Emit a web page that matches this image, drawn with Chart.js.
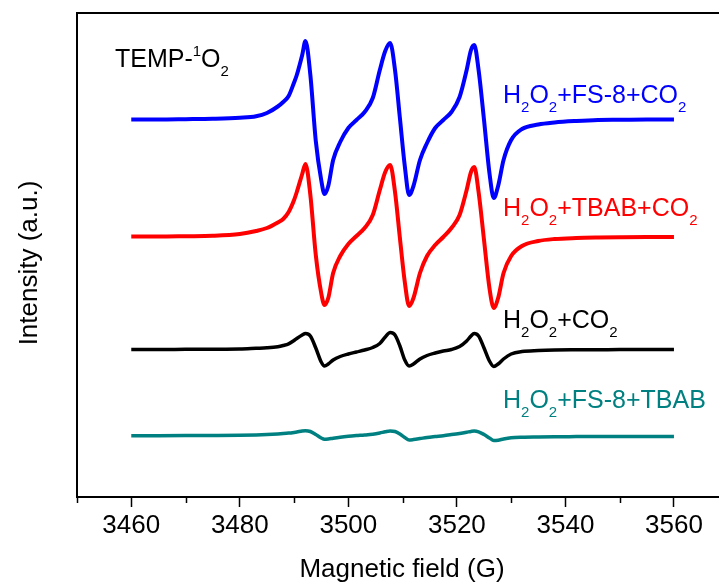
<!DOCTYPE html>
<html>
<head>
<meta charset="utf-8">
<script src="https://cdn.jsdelivr.net/npm/chart.js@4.4.1/dist/chart.umd.min.js"></script>
<style>
  html, body { margin: 0; padding: 0; background: #fff; }
  canvas { display: block; }
</style>
</head>
<body>
<canvas id="chart" width="719" height="586"></canvas>
<script>
// magnetic field (G), shared by all four spectra
const field = [3460, 3465, 3470, 3475, 3480, 3483, 3485, 3487, 3488, 3489, 3490, 3490.5, 3491.5, 3492.1,
  3493, 3494, 3495, 3495.6, 3496.3, 3497.2, 3498.5, 3500, 3501.5, 3503, 3504.5, 3505.8,
  3506.8, 3507.7, 3508.6, 3509.5, 3510.4, 3511.2, 3512, 3513.2, 3514.5, 3516, 3517.5, 3519,
  3520.5, 3521.8, 3522.6, 3523.2, 3524, 3525, 3526, 3526.8, 3527.6, 3528.6, 3530, 3532,
  3535, 3538, 3542, 3546, 3550, 3555, 3560];

// stacked intensities (a.u.), each spectrum sits on its own offset
const fs8Co2 = [377.5, 377.5, 377.8, 378.2, 379.2, 380.7, 384, 390.5, 395, 401, 414.5, 422, 442, 456,
  422, 356, 317, 303, 311, 337, 355, 369, 377, 385, 399, 427,
  446, 454, 427, 379, 331, 302, 311, 337, 354, 369, 377, 385,
  400, 427, 447, 452, 427, 377, 324, 299, 311, 337, 357, 368,
  372.5, 374.5, 376, 377, 377.2, 377.5, 377.5];

const tbabCo2 = [260.5, 260.5, 260.8, 261.2, 263, 266, 269, 274.5, 278, 285, 297, 305, 323, 333,
  302, 242, 204, 192, 199, 224, 241, 253, 261, 269, 282, 307,
  325, 332, 305, 259, 215, 191, 199, 224, 241, 252, 260, 269,
  282, 307, 325, 330, 305, 257, 209, 189, 199, 224, 241, 251,
  256, 258, 259, 259.5, 259.8, 260, 260];

const h2o2Co2 = [147.5, 147.5, 147.7, 147.8, 148, 148.7, 149.2, 150.3, 151.5, 153.2, 156.5, 158.5, 162, 163.5,
  161, 149, 135, 131, 133, 137, 140.5, 143, 145, 147, 149.5, 153.5,
  160, 164.5, 162, 151, 137, 131, 133, 138, 141.5, 144, 146, 147.5,
  150.5, 156, 161, 163.5, 161, 149, 136, 130.5, 133, 138, 143, 145.5,
  146.5, 147, 147.2, 147.3, 147.4, 147.5, 147.5];

const fs8Tbab = [61.2, 61.3, 61.4, 61.5, 61.7, 62, 62.4, 63, 63.4, 63.9, 64.6, 65, 66, 66.3,
  65.5, 62.5, 59, 57.7, 58, 58.8, 59.8, 60.7, 61.4, 62, 62.8, 64,
  65.2, 66, 65.5, 63, 59.5, 57, 57.4, 58.4, 59.6, 60.5, 61.3, 62.4,
  63.6, 64.8, 65.6, 66, 65.2, 62.5, 59, 56.5, 56.8, 58, 59.2, 59.8,
  60.1, 60.3, 60.4, 60.5, 60.5, 60.5, 60.5];

const xTicks = [3460, 3480, 3500, 3520, 3540, 3560];
const xMinor = [3450, 3470, 3490, 3510, 3530, 3550, 3570];

// "_" = subscript, "^" = superscript for the next character
const names = ["H_2O_2+FS-8+CO_2", "H_2O_2+TBAB+CO_2", "H_2O_2+CO_2", "H_2O_2+FS-8+TBAB"];
const probe = "TEMP-^1O_2";

const colors = ["#0000ff", "#ff0000", "#000000", "#008080"];
const widths = [4, 4, 3.5, 3.5];
// where each name is written, in axis units
const nameAt = [[3528.5, 394.3], [3528.5, 281], [3528.5, 169], [3528.5, 89]];
const probeAt = [3457, 430.3];

const FONT = '"Liberation Sans", Arial, sans-serif';

function richText(ctx, str, x, y, size) {
  let i = 0;
  while (i < str.length) {
    let ch = str[i], dy = 0, fs = size;
    if ((ch === "_" || ch === "^") && i + 1 < str.length) {
      dy = ch === "_" ? size * 0.36 : -size * 0.43;
      fs = size * 0.6;
      ch = str[++i];
    }
    ctx.font = fs + "px " + FONT;
    ctx.fillText(ch, x, y + dy);
    x += ctx.measureText(ch).width;
    i++;
  }
}

const decor = {
  id: "decor",
  afterDraw(chart) {
    const ctx = chart.ctx, a = chart.chartArea;
    const sx = chart.scales.x, sy = chart.scales.y;
    ctx.save();
    ctx.strokeStyle = "#000";
    ctx.lineWidth = 2;
    // top frame line
    ctx.beginPath();
    ctx.moveTo(a.left, a.top);
    ctx.lineTo(chart.width, a.top);
    ctx.stroke();
    // minor ticks
    ctx.lineWidth = 1.5;
    xMinor.forEach(v => {
      const px = Math.round(sx.getPixelForValue(v)) + 0.5;
      if (px > chart.width) return;
      ctx.beginPath();
      ctx.moveTo(px, a.bottom);
      ctx.lineTo(px, a.bottom + 6);
      ctx.stroke();
    });
    // axis titles
    ctx.fillStyle = "#000";
    ctx.font = "26px " + FONT;
    ctx.textAlign = "center";
    ctx.textBaseline = "alphabetic";
    ctx.fillText("Magnetic field (G)", 402, 577);
    ctx.translate(37, 263);
    ctx.rotate(-Math.PI / 2);
    ctx.fillText("Intensity (a.u.)", 0, 0);
    ctx.restore();

    ctx.save();
    ctx.textAlign = "left";
    ctx.textBaseline = "alphabetic";
    names.forEach((n, i) => {
      ctx.fillStyle = colors[i];
      richText(ctx, n, sx.getPixelForValue(nameAt[i][0]), sy.getPixelForValue(nameAt[i][1]), 25);
    });
    ctx.fillStyle = "#000";
    richText(ctx, probe, sx.getPixelForValue(probeAt[0]), sy.getPixelForValue(probeAt[1]), 25);
    ctx.restore();
  }
};

const spectra = [fs8Co2, tbabCo2, h2o2Co2, fs8Tbab];

new Chart(document.getElementById("chart"), {
  type: "line",
  data: {
    datasets: spectra.map((s, i) => ({
      label: names[i],
      data: field.map((f, j) => ({ x: f, y: s[j] })),
      borderColor: colors[i],
      borderWidth: widths[i],
      pointRadius: 0,
      cubicInterpolationMode: "monotone",
      borderJoinStyle: "round",
      fill: false
    }))
  },
  options: {
    responsive: false,
    animation: false,
    devicePixelRatio: 1,
    layout: { padding: { top: 13, left: 0, right: 0, bottom: 0 } },
    plugins: { legend: { display: false }, tooltip: { enabled: false } },
    scales: {
      x: {
        type: "linear",
        min: 3450,
        max: 3568.3,
        afterBuildTicks: s => { s.ticks = xTicks.map(v => ({ value: v })); },
        afterFit: s => { s.height = 89; },
        ticks: {
          color: "#000",
          font: { size: 26, family: FONT },
          padding: 3,
          maxRotation: 0,
          autoSkip: false,
          callback: v => String(v)
        },
        grid: {
          drawOnChartArea: false,
          tickLength: 10,
          tickColor: "#000",
          tickWidth: 1.5
        },
        border: { color: "#000", width: 2 }
      },
      y: {
        min: 0,
        max: 484,
        afterFit: s => { s.width = 77; },
        ticks: { display: false },
        grid: { display: false },
        border: { color: "#000", width: 2 }
      }
    }
  },
  plugins: [decor]
});
</script>
</body>
</html>
